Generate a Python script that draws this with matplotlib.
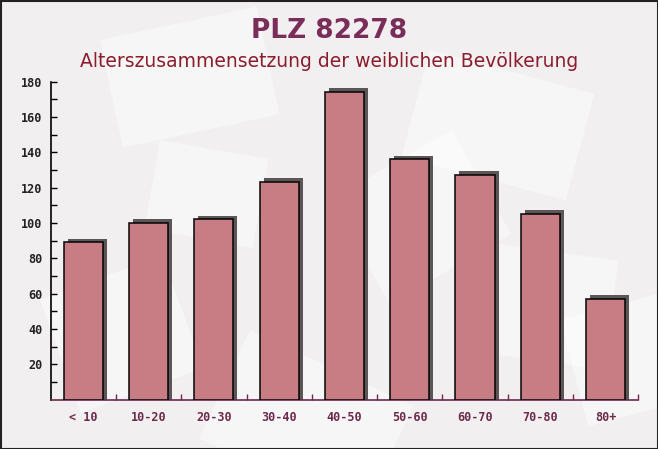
import numpy as np
import matplotlib
matplotlib.use("Agg")
import matplotlib.pyplot as plt
from matplotlib.patches import Rectangle
from matplotlib.font_manager import FontProperties

# data
categories = ["< 10", "10-20", "20-30", "30-40", "40-50", "50-60", "60-70", "70-80", "80+"]
values = [89, 100, 102, 123, 174, 136, 127, 105, 57]
y_ticks = [20, 40, 60, 80, 100, 120, 140, 160, 180]

title = "PLZ 82278"
subtitle = "Alterszusammensetzung der weiblichen Bevölkerung"

BG = "#f2eff1"
BAR = "#c26f78"
SHADOW = "#5c5656"
TITLE_C = "#7b2d5a"
SUB_C = "#8b1c2c"
XLAB_C = "#6b2a4a"

fig = plt.figure(figsize=(6.58, 4.49), dpi=100)
fig.patch.set_facecolor(BG)

# faint envelope-like shapes in the background
bg_ax = fig.add_axes([0, 0, 1, 1], zorder=0)
bg_ax.set_xlim(0, 658)
bg_ax.set_ylim(449, 0)
bg_ax.axis("off")
shapes = [(100, 40, 160, 110, -12), (430, 50, 170, 110, 15), (40, 300, 130, 120, -20),
          (250, 330, 180, 120, 25), (560, 320, 120, 110, -15), (160, 140, 110, 90, 10),
          (470, 240, 150, 110, 8), (330, 200, 140, 120, -30)]
for x, y, w, h, a in shapes:
    r = Rectangle((x, y), w, h, angle=a, facecolor="white", alpha=0.45, edgecolor="none")
    bg_ax.add_patch(r)
frame = Rectangle((0.5, 0.5), 657, 448, facecolor="none", edgecolor="#222222", linewidth=1.5)
bg_ax.add_patch(frame)

ax = fig.add_axes([0.077, 0.110, 0.893, 0.708], zorder=1)
ax.patch.set_alpha(0)

x = np.arange(len(categories))
w = 0.6
dx, dy = 0.06, 2.2

# shadow behind each bar
ax.bar(x + dx, np.array(values) + dy, width=w, color=SHADOW, edgecolor="none", zorder=2)
ax.bar(x, values, width=w, color="white", edgecolor="none", zorder=3)
ax.bar(x, values, width=w, color=BAR, alpha=0.9, edgecolor="black", linewidth=1.2, zorder=4)

ax.set_xlim(-0.5, len(categories) - 0.5)
ax.set_ylim(0, 180)

ax.set_yticks(y_ticks)
ax.set_yticks(np.arange(10, 180, 10), minor=True)
ax.set_xticks(x)
ax.set_xticks(x + 0.5, minor=True)
ax.set_xticklabels(categories)

mono = FontProperties(family="DejaVu Sans Mono", weight="bold", size=8.5)
for lab in ax.get_yticklabels():
    lab.set_fontproperties(mono)
    lab.set_color("#222222")
for lab in ax.get_xticklabels():
    lab.set_fontproperties(mono)
    lab.set_color(XLAB_C)

ax.tick_params(axis="y", which="both", direction="in", length=4, width=1, color="black", pad=6)
ax.tick_params(axis="x", which="major", length=0, pad=8)
ax.tick_params(axis="x", which="minor", direction="in", length=4, width=1, color=XLAB_C)

for s in ["top", "right"]:
    ax.spines[s].set_visible(False)
ax.spines["left"].set_color("black")
ax.spines["bottom"].set_color(XLAB_C)
ax.spines["left"].set_linewidth(1.2)
ax.spines["bottom"].set_linewidth(1.2)

fig.text(0.5, 0.932, title, ha="center", va="center", fontsize=19, fontweight="bold",
         color=TITLE_C, family="DejaVu Sans")
fig.text(0.5, 0.862, subtitle, ha="center", va="center", fontsize=13.5,
         color=SUB_C, family="DejaVu Sans")

fig.savefig("out.png", dpi=100, facecolor=BG)
